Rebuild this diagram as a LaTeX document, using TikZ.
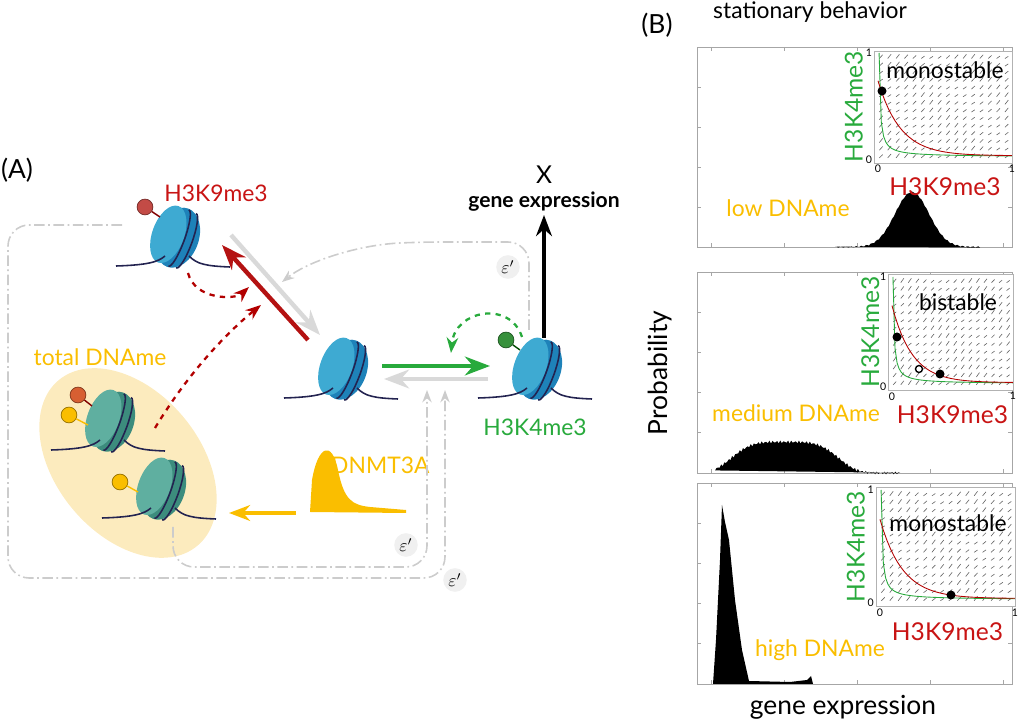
\documentclass[tikz,border=0pt]{standalone}
\usepackage{fontspec}
\setmainfont{Lato}
\usetikzlibrary{arrows.meta,shapes.geometric}
\definecolor{nucblue}{RGB}{62,170,210}
\definecolor{nucbluedk}{RGB}{30,130,185}
\definecolor{nucgreen}{RGB}{95,175,160}
\definecolor{nucgreendk}{RGB}{60,140,125}
\definecolor{dnanavy}{RGB}{35,35,80}
\definecolor{kred}{RGB}{200,20,20}
\definecolor{kgreen}{RGB}{40,170,60}
\definecolor{dyellow}{RGB}{250,190,0}
\definecolor{ellfill}{RGB}{252,235,190}
\definecolor{ballred}{RGB}{195,75,70}
\definecolor{ballgreen}{RGB}{55,145,60}
\definecolor{ballorange}{RGB}{215,95,50}
\tikzset{
  pics/nucleo/.style n args={2}{code={
    \fill[#2, rotate=-20] (5,0) ellipse (21 and 31);
    \fill[#1, rotate=-20] (-5,0) ellipse (16 and 30);
    \draw[dnanavy, rotate=-20, line width=0.9pt] (6,-30) arc (-90:90:6 and 30);
    \draw[dnanavy, rotate=-20, line width=0.9pt] (14,-29) arc (-90:90:6 and 29);
    \draw[dnanavy, line width=0.9pt] (-57,30) .. controls (-25,29) and (-15,26) .. (-8,20);
    \draw[dnanavy, line width=0.9pt] (16,20) .. controls (24,28) and (32,30) .. (57,31);
  }},
  ball/.style={circle, inner sep=0pt, minimum size=9pt, draw=#1!60!black, fill=#1},
  loopline/.style={gray!40, line width=0.9pt, dash pattern=on 6pt off 2pt on 1pt off 2pt, rounded corners=12pt},
  eps/.style={fill=gray!12, ellipse, inner sep=1pt, font=\normalsize},
  lbl/.style={font=\fontsize{13}{15}\selectfont},
  fld/.style={gray!80!black, line width=0.35pt},
  tick/.style={font=\fontsize{6}{6}\selectfont\rmfamily, inner sep=1pt},
  hist/.style={black},
  box/.style={draw=gray!70, line width=0.5pt},
}
\begin{document}
\begin{tikzpicture}[x=0.02cm, y=-0.02cm, >=Stealth]
\useasboundingbox (0,0) rectangle (1019,722);
% panel A
\node[lbl, font=\fontsize{15}{15}\selectfont] (labA) at (17,170) {(A)};
\fill[ellfill, rotate around={-50:(128,463)}] (128,463) ellipse (108 and 72);
\node[lbl, dyellow] (totdna) at (100,357) {total DNAme};
% nucleosomes
\pic at (173,236) {nucleo={nucblue}{nucbluedk}};
\pic at (341,368) {nucleo={nucblue}{nucbluedk}};
\pic at (535,368) {nucleo={nucblue}{nucbluedk}};
\pic at (108,420) {nucleo={nucgreen}{nucgreendk}};
\pic at (159,488) {nucleo={nucgreen}{nucgreendk}};
% marks
\node[ball=ballred] (k9ball) at (145,207) {};
\draw[red!50!black, thick] (k9ball) -- (160,217);
\node[ball=ballgreen] (k4ball) at (506,340) {};
\draw[green!30!black, thick] (k4ball) -- (520,350);
\node[ball=ballorange] (g1red) at (78,395) {};
\draw[red!50!black, thick] (g1red) -- (92,406);
\node[ball=dyellow] (g1yel) at (69,415) {};
\draw[dyellow, thick] (g1yel) -- (88,425);
\node[ball=dyellow] (g2yel) at (120,482) {};
\draw[dyellow, thick] (g2yel) -- (138,492);
\node[lbl, kred] (k9txt) at (216,193) {H3K9me3};
\node[lbl, kgreen] (k4txt) at (535,427) {H3K4me3};
\node[lbl, font=\fontsize{14}{14}\selectfont] (xtxt) at (544,175) {X};
\node[lbl, font=\fontsize{12}{12}\selectfont\bfseries] (gexp) at (544,202) {gene expression};
% arrow coordinates
\coordinate (redS) at (308,340); \coordinate (redE) at (222,245);
\coordinate (grS) at (231,235); \coordinate (grE) at (320,335);
\coordinate (gnS) at (382,366); \coordinate (gnE) at (490,366);
\coordinate (g2S) at (488,379); \coordinate (g2E) at (384,379);
\coordinate (blS) at (544,338); \coordinate (blE) at (544,215);
\coordinate (yeS) at (296,513); \coordinate (yeE) at (229,513);
\draw[->, kred!90!black, line width=2.5pt] (redS) -- (redE);
\draw[->, gray!30, line width=2.5pt] (grS) -- (grE);
\draw[->, kgreen, line width=2.5pt] (gnS) -- (gnE);
\draw[->, gray!30, line width=2.5pt] (g2S) -- (g2E);
\draw[->, black, line width=2pt] (blS) -- (blE);
\draw[->, dyellow, line width=2pt] (yeS) -- (yeE);
% dashed feedbacks
\coordinate (k9aS) at (188,273); \coordinate (k9aE) at (249,287);
\draw[->, red!70!black, dashed, line width=1.3pt] (k9aS) .. controls (195,300) and (235,300) .. (k9aE);
\coordinate (dmS) at (155,428); \coordinate (dmE) at (261,305);
\draw[->, red!70!black, dashed, line width=1.3pt] (dmS) .. controls (190,370) and (230,330) .. (dmE);
\coordinate (k4aS) at (522,337); \coordinate (k4aE) at (451,353);
\draw[->, kgreen, dashed, line width=1.3pt] (k4aS) .. controls (510,300) and (455,310) .. (k4aE);
% DNMT3A
\fill[dyellow] (310,512) -- (312,480) .. controls (318,445) and (332,440) .. (338,470)
  .. controls (344,500) and (352,505) .. (370,507) -- (406,510) -- (406,513) -- cycle;
\node[lbl, dyellow, anchor=west] (dnmt) at (325,465) {DNMT3A};
% grey loops
\coordinate (loopA) at (122,225); \coordinate (loopAE) at (445,390);
\draw[loopline, ->] (loopA) -- (8,225) -- (8,578) -- (445,578) -- (loopAE);
\coordinate (loopB) at (173,527); \coordinate (loopBE) at (427,390);
\draw[loopline, ->] (loopB) -- (173,567) -- (427,567) -- (loopBE);
\coordinate (loopC) at (529,330); \coordinate (loopCE) at (282,282);
\draw[loopline, ->] (loopC) -- (529,242) -- (420,242) .. controls (360,245) and (310,260) .. (loopCE);
\node[eps] (eps1) at (508,267) {$\varepsilon'$};
\node[eps] (eps2) at (406,545) {$\varepsilon'$};
\node[eps] (eps3) at (455,580) {$\varepsilon'$};
% panel B
\node[lbl, font=\fontsize{15}{15}\selectfont] (labB) at (657,25) {(B)};
\node[lbl, font=\fontsize{13}{13}\selectfont] (stat) at (810,12) {stationary behavior};
\node[lbl, rotate=90, font=\fontsize{15}{15}\selectfont] (prob) at (660,373) {Probability};
\node[lbl, font=\fontsize{15}{15}\selectfont] (gexpB) at (843,707) {gene expression};
\foreach \top/\bot in {47/247, 272/473, 483/684}{
  \draw[box] (697,\top) rectangle (1012,\bot);
  \foreach \t in {1,...,4} \draw[gray!70] (697,{\bot-\t*(\bot-\top)/5}) -- ++(4,0);
  \foreach \t in {1,...,4} \draw[gray!70] (1012,{\bot-\t*(\bot-\top)/5}) -- ++(-4,0);
  \foreach \t in {711,784,857,930,1003} \draw[gray!70] (\t,\bot) -- ++(0,-4) (\t,\top) -- ++(0,4);
}
% histograms
\fill[hist] plot[domain=-77:68, samples=90] ({912+\x},{247-55*exp(-(\x/24)^2)+0.7*sin(\x*150)});
\fill[hist] plot[domain=-70:115, samples=120] ({785+\x},{473-31*exp(-(\x/58)^4)+1.5*sin(\x*97)});
\fill[hist] (713,684) -- (716,640) -- (720,560) -- (722,505) -- (725,522) -- (729,540)
  -- (735,600) -- (742,650) -- (749,681) -- (790,682) -- (807,680) -- (811,676) -- (813,684) -- cycle;
\node[lbl, dyellow] (lowd) at (788,208) {low DNAme};
\node[lbl, dyellow] (medd) at (796,413) {medium DNAme};
\node[lbl, dyellow] (highd) at (820,650) {high DNAme};
% insets
\foreach \ix/\iy/\iw/\ih/\kind in {878/160/134/107/1, 892/387/121/110/2, 880/603/135/113/3}{
  \begin{scope}[shift={(\ix,\iy)}, xscale=\iw, yscale=-\ih]
    \fill[white] (-0.03,-0.03) rectangle (1,1.02);
    \draw[gray!60] (-0.03,-0.03) rectangle (1,1.02);
    \foreach \i in {0,...,15}{
      \foreach \j in {0,...,13}{
        \draw[fld] ({\i/16+0.01},{\j/14+0.02}) -- ++(0.025,{0.03+0.01*sin(\i*40+\j*30)});
      }
    }
    \node[tick, anchor=east] at (-0.03,1) {1};
    \node[tick, anchor=east] at (-0.03,0) {0};
    \node[tick, anchor=north] at (0,-0.03) {0};
    \node[tick, anchor=north] at (1,-0.03) {1};
    \draw[kgreen, line width=0.5pt] plot[domain=0.008:1, samples=60] (\x,{min(1,0.008/\x+0.03)});
    \draw[red!70!black, line width=0.5pt] plot[domain=0:1, samples=40] (\x,{0.7*exp(-6*\x)+0.04});
    \node[kred, font=\fontsize{14}{14}\selectfont] at (0.5,-0.25) {H3K9me3};
    \node[kgreen, rotate=90, font=\fontsize{14}{14}\selectfont] at (-0.18,0.5) {H3K4me3};
  \end{scope}
}
\node[lbl] (mono1) at (945,70) {monostable};
\node[lbl] (bist) at (958,302) {bistable};
\node[lbl] (mono2) at (948,523) {monostable};
\fill (882,91) circle (4.5);
\fill (897,337) circle (4.5);
\draw[thick, fill=white] (919,369) circle (3.5);
\fill (940,374) circle (4.5);
\fill (951,595) circle (4.5);
\end{tikzpicture}
\end{document}
